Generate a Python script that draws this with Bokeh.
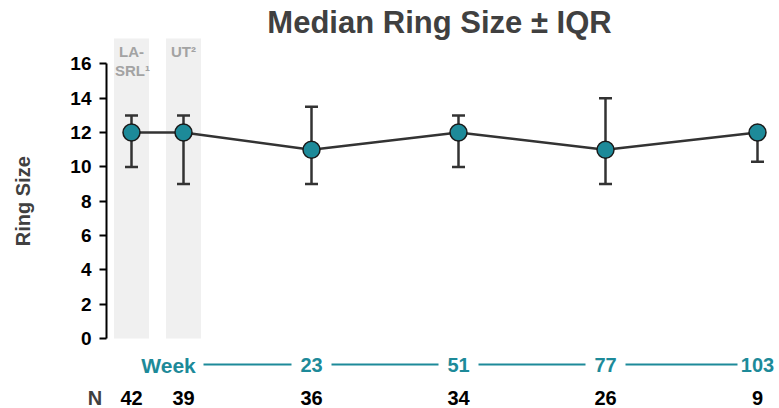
import numpy as np
from bokeh.plotting import figure
from bokeh.models import Range1d, FixedTicker
from bokeh.core.properties import value
from bokeh.embed import file_html
from bokeh.resources import INLINE

# ---- data ----
labels = ["LA-SRL", "UT", "23", "51", "77", "103"]
medians = [12, 12, 11, 12, 11, 12]
q1 = [10, 9, 9, 10, 9, 10.3]
q3 = [13, 13, 13.5, 13, 14, 12]
n_counts = [42, 39, 36, 34, 26, 9]
week_labels = ["23", "51", "77", "103"]
y_ticks = [0, 2, 4, 6, 8, 10, 12, 14, 16]

# ---- layout (slot positions, 1 unit = 10 px) ----
x_pos = [2.5, 7.7, 20.5, 35.2, 49.9, 65.1]

FONT = "Liberation Sans"
TEAL = "#1d8a99"
DARK = "#404040"

p = figure(width=779, height=408, output_backend="svg", toolbar_location=None,
           x_range=Range1d(-10.6, 67.3), y_range=Range1d(-4.079, 19.697),
           x_axis_location=None, y_axis_location="left",
           min_border_left=0, min_border_right=0, min_border_top=0, min_border_bottom=0)
p.outline_line_color = None
p.grid.visible = False
p.background_fill_color = "white"

# gray bands for reference groups
p.vbar(x=x_pos[:2], top=17.48, bottom=0, width=3.5, color="#f0f0f0", line_color=None)

p.text(x=[x_pos[0], x_pos[0] + 0.1, x_pos[1]], y=[16.72, 15.62, 16.72], text=["LA-", "SRL¹", "UT²"],
       text_font=value(FONT), text_font_style="bold", text_font_size="15px",
       text_color="#a3a3a3", text_align="center", text_baseline="middle")

# y axis (fixed at the left edge of the data area)
ax = p.yaxis[0]
ax.fixed_location = 0
ax.bounds = (0, 16)
ax.ticker = FixedTicker(ticks=y_ticks)
ax.minor_tick_line_color = None
ax.major_tick_in = 0
ax.major_tick_out = 7
ax.major_tick_line_width = 2
ax.axis_line_width = 2
ax.axis_line_color = "black"
ax.major_tick_line_color = "black"
ax.major_label_text_font = FONT
ax.major_label_text_font_style = "bold"
ax.major_label_text_font_size = "19px"
ax.major_label_text_color = "black"
ax.major_label_standoff = 8

# error bars
xs = np.array(x_pos)
p.segment(x0=xs, y0=q1, x1=xs, y1=q3, line_color="#333333", line_width=2.5)
cap = 0.65
p.segment(x0=xs - cap, y0=q1, x1=xs + cap, y1=q1, line_color="#333333", line_width=2.5)
p.segment(x0=xs - cap, y0=q3, x1=xs + cap, y1=q3, line_color="#333333", line_width=2.5)

# median line and markers
p.line(x=x_pos, y=medians, line_color="#333333", line_width=2.5)
p.scatter(x=x_pos, y=medians, size=17, fill_color=TEAL, line_color="#1a1a1a", line_width=1.5)

# week row
week_mid = -1.573
week_line = -1.515
p.text(x=[6.2], y=[week_mid], text=["Week"], text_font=value(FONT), text_font_style="bold",
       text_font_size="21px", text_color=TEAL, text_align="center", text_baseline="middle")
p.text(x=x_pos[2:], y=[week_mid] * 4, text=week_labels, text_font=value(FONT), text_font_style="bold",
       text_font_size="20px", text_color=TEAL, text_align="center", text_baseline="middle")
gap = 2.0
seg_x0 = [9.7] + [x + gap for x in x_pos[2:5]]
seg_x1 = [x - gap for x in x_pos[2:]]
p.segment(x0=seg_x0, y0=week_line, x1=seg_x1, y1=week_line, line_color=TEAL, line_width=2)

# N row
n_mid = -3.467
p.text(x=[-1.15], y=[n_mid], text=["N"], text_font=value(FONT), text_font_style="bold",
       text_font_size="20px", text_color=DARK, text_align="center", text_baseline="middle")
p.text(x=x_pos, y=[n_mid] * 6, text=[str(v) for v in n_counts], text_font=value(FONT),
       text_font_style="bold", text_font_size="20px", text_color="black",
       text_align="center", text_baseline="middle")

# title and y label
p.text(x=[33.3], y=[18.39], text=["Median Ring Size ± IQR"], text_font=value(FONT),
       text_font_style="bold", text_font_size="31px", text_color=DARK,
       text_align="center", text_baseline="middle")
p.text(x=[-8.4], y=[8.0], text=["Ring Size"], angle=np.pi / 2, text_font=value(FONT),
       text_font_style="bold", text_font_size="20px", text_color=DARK,
       text_align="center", text_baseline="middle")

open("out.html", "w").write(file_html(p, INLINE))
